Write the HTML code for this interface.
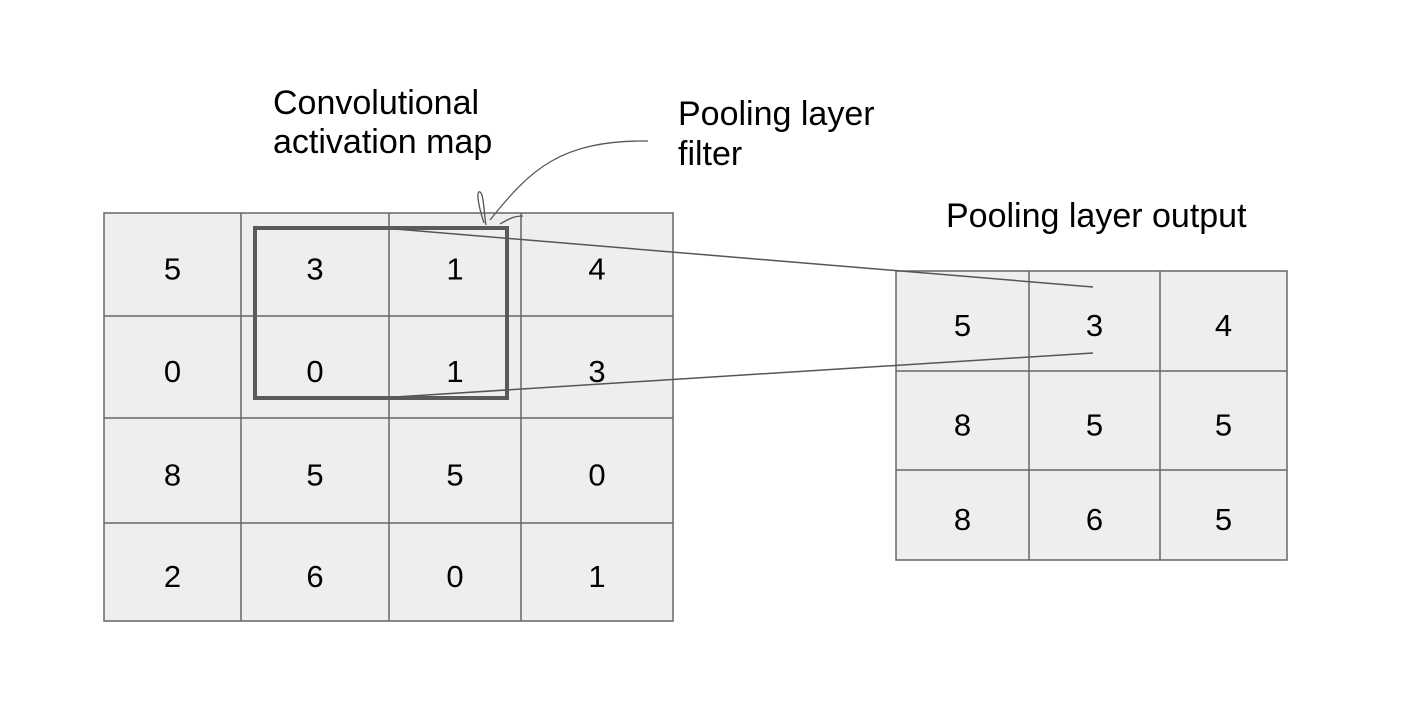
<!DOCTYPE html>
<html><head><meta charset="utf-8"><style>
html,body{margin:0;padding:0;background:#fff;}
svg{display:block;font-family:"Liberation Sans",Arial,sans-serif;}
</style></head><body>
<svg id="c" width="1406" height="720" viewBox="0 0 1406 720">
<g id="labels" font-size="34" fill="#000">
<text x="273" y="114">Convolutional</text>
<text x="273" y="153">activation map</text>
<text x="678" y="125">Pooling layer</text>
<text x="678" y="165">filter</text>
<text x="946" y="227">Pooling layer output</text>
</g>
<g id="left"></g>
<g id="right"></g>
<g id="overlay" fill="none" stroke="#555">
<path d="M648,141 C560,140 530,170 490,220" stroke-width="1.3"/>
<path d="M484,223 C478,205 476,190 480,192 C484,194 484,215 486,225" stroke-width="1.3"/>
<path d="M500,224 C510,218 515,216 523,216" stroke-width="1.3"/>
<rect x="255" y="228" width="252" height="170" stroke-width="4" stroke="#5a5a5a"/>
<line x1="395" y1="229" x2="1093" y2="287" stroke-width="1.5"/>
<line x1="395" y1="397" x2="1093" y2="353" stroke-width="1.5"/>
</g>
</svg>
<script>
const leftValues=[[5,3,1,4],[0,0,1,3],[8,5,5,0],[2,6,0,1]];
const rightValues=[[5,3,4],[8,5,5],[8,6,5]];
const leftCols=[104,241,389,521,673], leftRows=[213,316,418,523,621];
const rightCols=[896,1029,1160,1287], rightRows=[271,371,470,560];
const NS="http://www.w3.org/2000/svg";
function drawGrid(gid,vals,cols,rows,name){
  const g=document.getElementById(gid);
  const bg=document.createElementNS(NS,'rect');
  bg.setAttribute('x',cols[0]);bg.setAttribute('y',rows[0]);
  bg.setAttribute('width',cols[cols.length-1]-cols[0]);bg.setAttribute('height',rows[rows.length-1]-rows[0]);
  bg.setAttribute('fill','#eeeeee');bg.setAttribute('stroke','#666');bg.setAttribute('stroke-width','1.5');
  
  
  g.appendChild(bg);
  for(let i=1;i<cols.length-1;i++){
    const l=document.createElementNS(NS,'line');
    l.setAttribute('x1',cols[i]);l.setAttribute('x2',cols[i]);l.setAttribute('y1',rows[0]);l.setAttribute('y2',rows[rows.length-1]);
    l.setAttribute('stroke','#666');l.setAttribute('stroke-width','1.5');
    
    
    g.appendChild(l);
  }
  for(let i=1;i<rows.length-1;i++){
    const l=document.createElementNS(NS,'line');
    l.setAttribute('y1',rows[i]);l.setAttribute('y2',rows[i]);l.setAttribute('x1',cols[0]);l.setAttribute('x2',cols[cols.length-1]);
    l.setAttribute('stroke','#666');l.setAttribute('stroke-width','1.5');
    
    
    g.appendChild(l);
  }
  vals.forEach((row,r)=>row.forEach((v,c)=>{
    const t=document.createElementNS(NS,'text');
    t.setAttribute('x',(cols[c]+cols[c+1])/2);t.setAttribute('y',(rows[r]+rows[r+1])/2+15);
    t.setAttribute('text-anchor','middle');t.setAttribute('font-size','31');
    t.textContent=v;
    
    
    g.appendChild(t);
  }));
}
drawGrid('left',leftValues,leftCols,leftRows,'activation-map');
drawGrid('right',rightValues,rightCols,rightRows,'pooling-output');
</script>
</body></html>
